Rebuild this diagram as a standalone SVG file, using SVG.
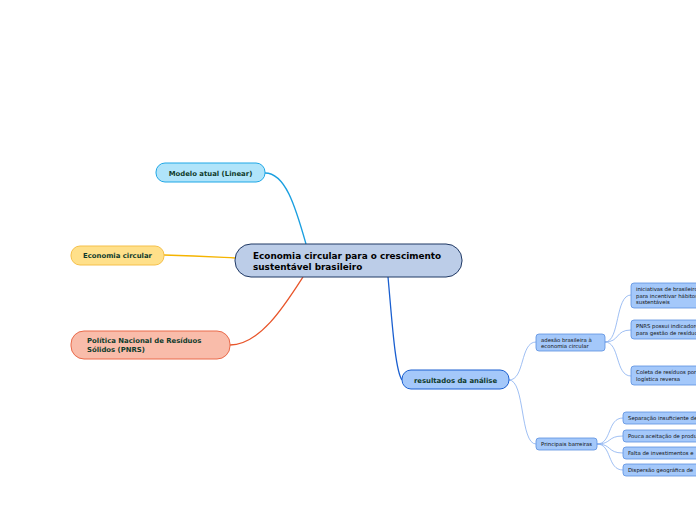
<svg xmlns="http://www.w3.org/2000/svg" width="696" height="520" viewBox="0 0 696 520">
<style>
text{font-family:"DejaVu Sans",Verdana,sans-serif;}
.b{font-weight:bold;}
.t1{font-size:6.9px;fill:#0f3b2c;}
.t0{font-size:8.9px;fill:#000;}
.t2{font-size:5.35px;fill:#111;}
.c{fill:none;}
.n2{fill:#a4c8fa;stroke:#5a8fe0;stroke-width:0.8;}
.l2{stroke:#86aef0;stroke-width:0.8;fill:none;}
</style>
<rect width="696" height="520" fill="#fff"/>
<g id="connectors">
<path class="c" d="M265,173 C285,173 295,205 306,244" stroke="#1a9fe0" stroke-width="1.3"/>
<path class="c" d="M164,255 C200,256 215,257 235,258" stroke="#f5b400" stroke-width="1.3"/>
<path class="c" d="M230,345 C260,345 285,305 303,277" stroke="#e8552a" stroke-width="1.3"/>
<path class="c" d="M388,277 C392,320 395,370 402,380" stroke="#1a5fd0" stroke-width="1.3"/>
<path class="l2" d="M509,380 C525,380 520,342 536,342"/>
<path class="l2" d="M509,380 C525,380 520,444 536,444"/>
<path class="l2" d="M605,342 C620,342 615,295 631,295"/>
<path class="l2" d="M605,342 C620,342 615,330 631,330"/>
<path class="l2" d="M605,342 C620,342 615,376 631,376"/>
<path class="l2" d="M597,444 C612,444 607,418 623,418"/>
<path class="l2" d="M597,444 C612,444 607,436 623,436"/>
<path class="l2" d="M597,444 C612,444 607,453 623,453"/>
<path class="l2" d="M597,444 C612,444 607,470 623,470"/>
</g>
<g id="central">
<rect x="235" y="244" width="227" height="33" rx="16" fill="#bccde8" stroke="#1f3864" stroke-width="1"/>
<text class="b t0" x="253" y="259">Economia circular para o crescimento</text>
<text class="b t0" x="253" y="270">sustentável brasileiro</text>
</g>
<g id="modelo">
<rect x="156" y="163" width="109" height="19" rx="9" fill="#b0e4fa" stroke="#1fa7e6" stroke-width="1"/>
<text class="b t1" x="210.5" y="175.5" text-anchor="middle">Modelo atual (Linear)</text>
</g>
<g id="economia">
<rect x="71" y="246" width="93" height="19" rx="9" fill="#ffe08a" stroke="#f5c04a" stroke-width="1"/>
<text class="b t1" x="83" y="258">Economia circular</text>
</g>
<g id="pnrs">
<rect x="71" y="331" width="159" height="28" rx="13" fill="#f9bcaa" stroke="#ea6a4a" stroke-width="1"/>
<text class="b t1" x="87" y="343">Política Nacional de Resíduos</text>
<text class="b t1" x="87" y="352">Sólidos (PNRS)</text>
</g>
<g id="resultados">
<rect x="402" y="370" width="107" height="19" rx="9" fill="#a4c8fa" stroke="#1a5fd0" stroke-width="1"/>
<text class="b t1" x="455.5" y="382.5" text-anchor="middle">resultados da análise</text>
</g>
<g id="adesao">
<rect class="n2" x="536" y="334" width="69" height="17" rx="3"/>
<text class="t2" x="541" y="341.5">adesão brasileira à</text>
<text class="t2" x="541" y="348">economia circular</text>
</g>
<g id="barreiras">
<rect class="n2" x="536" y="438" width="61" height="12" rx="3"/>
<text class="t2" x="541" y="446">Principais barreiras</text>
</g>
<g id="iniciativas">
<rect class="n2" x="631" y="283" width="80" height="25" rx="3"/>
<text class="t2" x="636" y="291">iniciativas de brasileiros</text>
<text class="t2" x="636" y="297.5">para incentivar hábitos</text>
<text class="t2" x="636" y="304">sustentáveis</text>
</g>
<g id="pnrs-ind">
<rect class="n2" x="631" y="320" width="80" height="19" rx="3"/>
<text class="t2" x="636" y="328">PNRS possui indicadores</text>
<text class="t2" x="636" y="334.5">para gestão de resíduos</text>
</g>
<g id="coleta">
<rect class="n2" x="631" y="366" width="80" height="19" rx="3"/>
<text class="t2" x="636" y="374">Coleta de resíduos por</text>
<text class="t2" x="636" y="380.5">logística reversa</text>
</g>
<g id="separacao">
<rect class="n2" x="623" y="412" width="90" height="12" rx="3"/>
<text class="t2" x="628" y="420">Separação insuficiente de</text>
</g>
<g id="pouca">
<rect class="n2" x="623" y="430" width="90" height="12" rx="3"/>
<text class="t2" x="628" y="438">Pouca aceitação de produtos</text>
</g>
<g id="falta">
<rect class="n2" x="623" y="447" width="90" height="12" rx="3"/>
<text class="t2" x="628" y="455">Falta de investimentos e</text>
</g>
<g id="dispersao">
<rect class="n2" x="623" y="464" width="90" height="12" rx="3"/>
<text class="t2" x="628" y="472">Dispersão geográfica de</text>
</g>
</svg>
